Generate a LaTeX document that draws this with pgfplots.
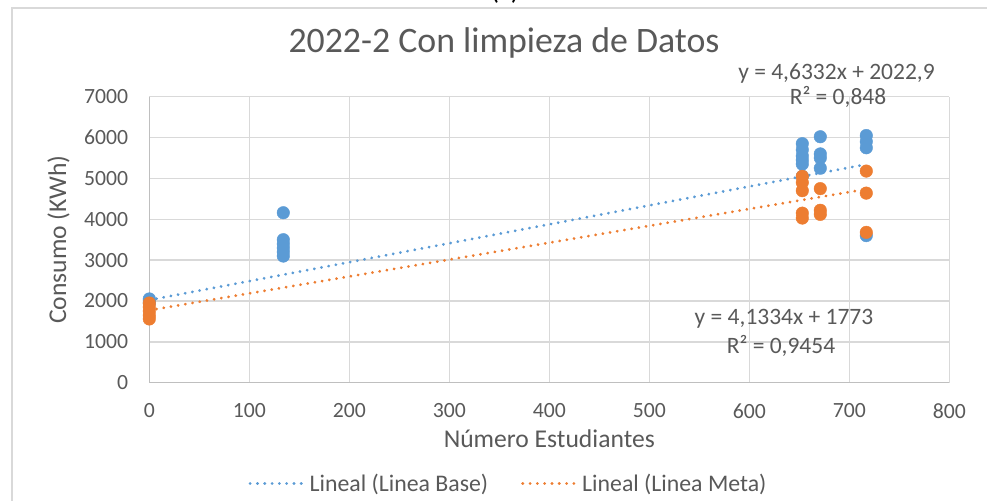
\documentclass[border=0pt]{standalone}
\usepackage{fontspec}
\setmainfont{Carlito}
\usepackage{pgfplots}
\pgfplotsset{compat=1.18}
\definecolor{baseblue}{HTML}{5B9BD5}
\definecolor{metaorange}{HTML}{ED7D31}
\definecolor{txtgray}{HTML}{595959}
\definecolor{gridgray}{HTML}{D9D9D9}
\definecolor{axisgray}{HTML}{BFBFBF}
\newcommand{\fs}[1]{\fontsize{#1bp}{1.2\dimexpr#1bp\relax}\selectfont}
\tikzset{trend/.style={line width=3bp, line cap=round, dash pattern=on 0.1bp off 7.2bp}}

\begin{document}
\begin{tikzpicture}
\path[use as bounding box] (0bp,0bp) rectangle (987bp,501bp);
% chart frame and the cut-off caption above it
\draw[gridgray, line width=1.5bp] (12bp,-20bp) -- (12bp,493bp) -- (1010bp,493bp);
\node[anchor=base, font=\fs{28}, text=black, inner sep=0pt] at (505bp,501bp) {(c)};
\begin{axis}[
    at={(149.3bp,118.3bp)}, anchor=south west,
    scale only axis, width=800bp, height=286bp,
    xmin=0, xmax=800, ymin=0, ymax=7000,
    xtick distance=100, ytick distance=1000,
    axis lines*=left,
    axis line style={axisgray, line width=1.5bp},
    grid=major, major grid style={gridgray, line width=1.5bp},
    major tick length=0pt,
    /pgf/number format/.cd, 1000 sep={}, assume math mode=true, /pgfplots/.cd,
    tick label style={font=\fs{21.7}, text=txtgray, inner sep=0pt},
    xticklabel style={anchor=north}, xticklabel shift=21bp,
    yticklabel style={anchor=east}, yticklabel shift=21bp,
    title={2022-2 Con limpieza de Datos},
    title style={at={(axis description cs:0.4434,1.1343)}, anchor=base, font=\fs{35.8}, text=txtgray, inner sep=0pt},
    xlabel={Número Estudiantes},
    xlabel style={at={(axis description cs:0.5,0)}, anchor=base, yshift=-65bp, font=\fs{25.6}, text=txtgray, inner sep=0pt},
    ylabel={Consumo (KWh)},
    ylabel style={at={(axis description cs:-0.1041,0.5)}, anchor=base, font=\fs{25.6}, text=txtgray, inner sep=0pt},
    legend columns=2,
    legend style={at={(axis description cs:0.4478,-0.351)}, anchor=center, draw=none, fill=none,
        font=\fs{23.8}, text=txtgray, inner sep=0pt,
        nodes={inner sep=0pt, xshift=11bp},
        /tikz/every even column/.append style={column sep=33bp}},
    legend cell align=left,
    legend image code/.code={\draw[#1] (0bp,0bp) -- (58bp,0bp);},
    clip=false,
]
% Linea Base
\addplot[only marks, mark=*, mark size=6.3bp, baseblue, mark options={draw=none, fill=baseblue}, forget plot] coordinates {
  (0,2050) (0,2000) (0,1950)
  (134,4160) (134,3500) (134,3400) (134,3300) (134,3200) (134,3100)
  (653,5850) (653,5700) (653,5550) (653,5450) (653,5350) (653,5050)
  (671,6020) (671,5600) (671,5500) (671,5250)
  (717,6050) (717,5900) (717,5750) (717,3600)
};
% Linea Meta
\addplot[only marks, mark=*, mark size=6.3bp, metaorange, mark options={draw=none, fill=metaorange}, forget plot] coordinates {
  (0,1950) (0,1850) (0,1750) (0,1650) (0,1560)
  (653,5050) (653,4900) (653,4700) (653,4150) (653,4030)
  (671,4750) (671,4220) (671,4120)
  (717,5180) (717,4640) (717,3680)
};
% trendlines (Excel linear fits)
\addplot[baseblue, trend] coordinates {(0,2022.9) (717,5344.7)};
\addlegendentry{Lineal (Linea Base)}
\addplot[metaorange, trend] coordinates {(0,1773) (717,4736.6)};
\addlegendentry{Lineal (Linea Meta)}
\end{axis}
% trendline equations
\begin{scope}[every node/.style={anchor=base, font=\fs{23.5}, text=txtgray, inner sep=0pt}]
\node at (836.5bp,421bp) {y = 4,6332x + 2022,9};
\node at (838bp,396bp) {R² = 0,848};
\node at (784bp,176bp) {y = 4,1334x + 1773};
\node at (781bp,147bp) {R² = 0,9454};
\end{scope}
\end{tikzpicture}
\end{document}
